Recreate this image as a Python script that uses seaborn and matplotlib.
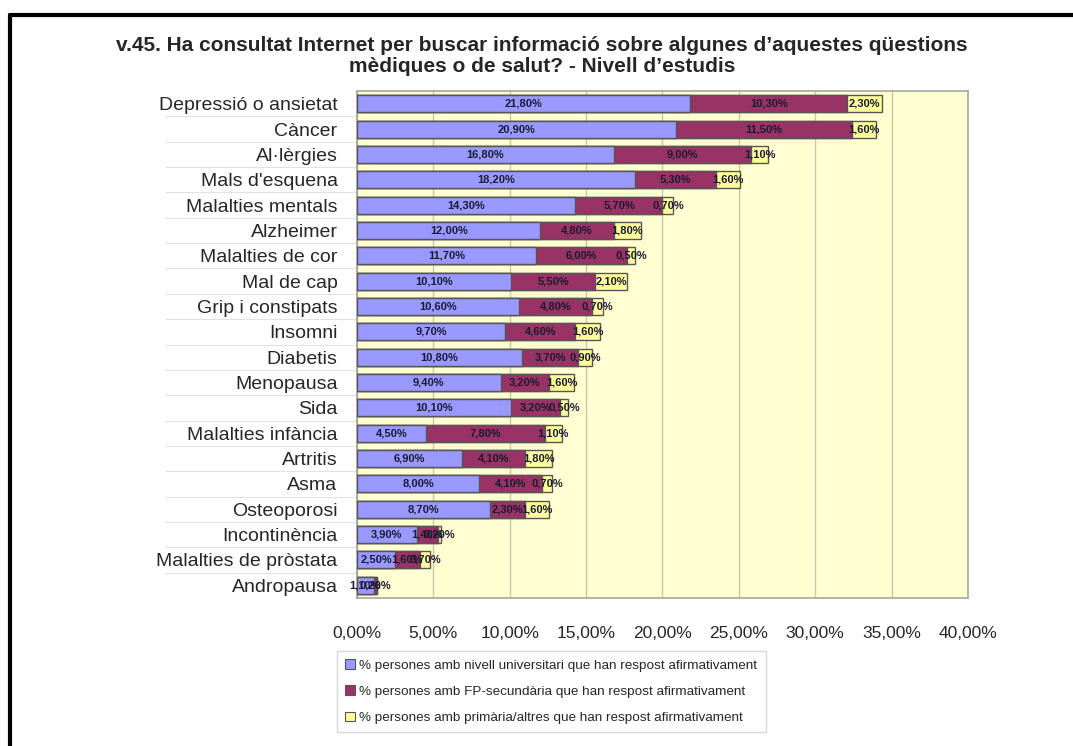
import matplotlib
matplotlib.use("Agg")
import matplotlib.pyplot as plt
from matplotlib.patches import Patch
from matplotlib.lines import Line2D
import numpy as np
import pandas as pd
import seaborn as sns

categories = [
    "Depressió o ansietat", "Càncer", "Al·lèrgies", "Mals d'esquena",
    "Malalties mentals", "Alzheimer", "Malalties de cor", "Mal de cap",
    "Grip i constipats", "Insomni", "Diabetis", "Menopausa", "Sida",
    "Malalties infància", "Artritis", "Asma", "Osteoporosi",
    "Incontinència", "Malalties de pròstata", "Andropausa",
]
universitari = [21.8, 20.9, 16.8, 18.2, 14.3, 12.0, 11.7, 10.1, 10.6, 9.7,
                10.8, 9.4, 10.1, 4.5, 6.9, 8.0, 8.7, 3.9, 2.5, 1.1]
fp_secundaria = [10.3, 11.5, 9.0, 5.3, 5.7, 4.8, 6.0, 5.5, 4.8, 4.6,
                 3.7, 3.2, 3.2, 7.8, 4.1, 4.1, 2.3, 1.4, 1.6, 0.2]
primaria = [2.3, 1.6, 1.1, 1.6, 0.7, 1.8, 0.5, 2.1, 0.7, 1.6,
            0.9, 1.6, 0.5, 1.1, 1.8, 0.7, 1.6, 0.2, 0.7, 0.0]
series_labels = [
    "% persones amb nivell universitari que han respost afirmativament",
    "% persones amb FP-secundària que han respost afirmativament",
    "% persones amb primària/altres que han respost afirmativament",
]
xticks = [0, 5, 10, 15, 20, 25, 30, 35, 40]
title = ("v.45. Ha consultat Internet per buscar informació sobre algunes d\u2019aquestes qüestions\n"
         "mèdiques o de salut? - Nivell d\u2019estudis")

colors = ["#9999FF", "#993366", "#FFFF99"]

df = pd.DataFrame({
    "categoria": categories,
    "univ": universitari,
    "fp": fp_secundaria,
    "prim": primaria,
})
df["c1"] = df["univ"]
df["c2"] = df["univ"] + df["fp"]
df["c3"] = df["c2"] + df["prim"]

sns.set_theme(style="white")
plt.rcParams["font.family"] = ["Liberation Sans", "DejaVu Sans"]

fig = plt.figure(figsize=(10.73, 7.46), dpi=100)
ax = fig.add_axes([0.3327, 0.1984, 0.5694, 0.6796])
ax.set_facecolor("#FFFFD2")

# stacked bars: draw cumulative totals back to front
for col, colr in zip(["c3", "c2", "c1"], colors[::-1]):
    sns.barplot(data=df, x=col, y="categoria", orient="h", color=colr,
                saturation=1, width=0.67, edgecolor="#555555", linewidth=1.0,
                ax=ax, zorder=3)

ax.set_xlim(0, 40)
ax.set_ylim(19.5, -0.5)
ax.set_xticks(xticks)
ax.set_xticklabels([f"{v:.2f}%".replace(".", ",") for v in xticks], fontsize=12.5)
ax.tick_params(axis="x", pad=20, length=0)
ax.tick_params(axis="y", which="major", labelsize=14, pad=14, length=0)
# faint separator lines between category rows on the label side
ax.set_yticks(np.arange(len(categories) - 1) + 0.5, minor=True)
ax.tick_params(axis="y", which="minor", length=138, width=0.8, color="#E2E2E2",
               direction="out", left=True)
ax.set_xlabel("")
ax.set_ylabel("")
ax.grid(axis="x", color="#C8C8A8", linewidth=1.0, zorder=0)
for s in ["top", "right", "bottom"]:
    ax.spines[s].set_color("#A8A8A0")
    ax.spines[s].set_linewidth(1.2)
ax.spines["left"].set_color("#A0A0A0")

# value labels centered in each segment
for i in range(len(df)):
    starts = [0, df["c1"][i], df["c2"][i]]
    vals = [df["univ"][i], df["fp"][i], df["prim"][i]]
    for s0, v in zip(starts, vals):
        if v <= 0:
            continue
        ax.text(s0 + v / 2, i, f"{v:.2f}%".replace(".", ","), ha="center",
                va="center", fontsize=8, fontweight="bold", color="#1A1A33",
                zorder=5)

fig.text(0.505, 0.925, title, ha="center", va="center", fontsize=15,
         fontweight="bold", linespacing=1.12)

handles = [Patch(facecolor=c, edgecolor="#555555", linewidth=0.8) for c in colors]
leg = fig.legend(handles, series_labels, loc="upper left",
                 bbox_to_anchor=(0.308, 0.136), fontsize=9.7, frameon=True,
                 fancybox=False, edgecolor="#CCCCCC", handlelength=0.75,
                 handleheight=0.75, handletextpad=0.3, labelspacing=1.0,
                 borderpad=0.6)
leg.get_frame().set_linewidth(1.0)

# outer frame (left and top edges)
fig.add_artist(Line2D([0.0095, 0.0095], [0.0, 0.98], transform=fig.transFigure,
                      color="black", linewidth=3))
fig.add_artist(Line2D([0.0095, 1.0], [0.98, 0.98], transform=fig.transFigure,
                      color="black", linewidth=3))

fig.savefig("out.png", dpi=100, facecolor="white")
